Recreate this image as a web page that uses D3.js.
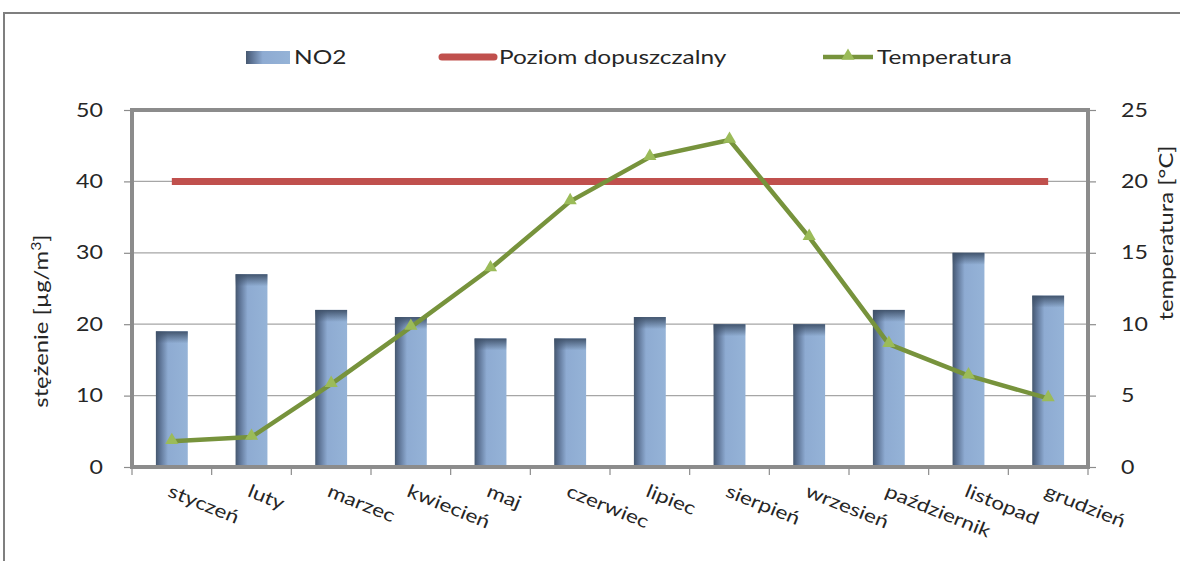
<!DOCTYPE html>
<html>
<head>
<meta charset="utf-8">
<script src="https://cdn.jsdelivr.net/npm/d3@7"></script>
<style>
  html, body { margin: 0; padding: 0; background: #fff; }
  svg { display: block; font-family: Lato, "Open Sans", sans-serif; }
</style>
</head>
<body>
<svg id="chart" width="1180" height="561"></svg>
<script>
// Monthly NO2 concentration, permitted level and mean temperature
const months = ["styczeń", "luty", "marzec", "kwiecień", "maj", "czerwiec",
                "lipiec", "sierpień", "wrzesień", "październik", "listopad", "grudzień"];
const no2 = [19, 27, 22, 21, 18, 18, 21, 20, 20, 22, 30, 24];
const limitLevel = [40, 40, 40, 40, 40, 40, 40, 40, 40, 40, 40, 40];
const temperature = [1.8, 2.1, 5.8, 9.8, 13.9, 18.6, 21.7, 22.9, 16.1, 8.6, 6.4, 4.8];
const leftTicks = [0, 10, 20, 30, 40, 50];
const rightTicks = [0, 5, 10, 15, 20, 25];

const svg = d3.select("#chart");
const W = 1180, H = 561;
const plot = { left: 132, right: 1088, top: 110, bottom: 467 };
const TXT = "#262626";
const WIDE = 1.22; // horizontal stretch applied to the lettering

const x = d3.scaleBand().domain(months).range([plot.left, plot.right]);
const yL = d3.scaleLinear().domain([0, 50]).range([plot.bottom, plot.top]);
const yR = d3.scaleLinear().domain([0, 25]).range([plot.bottom, plot.top]);

// gradients for the bars
const defs = svg.append("defs");
const hg = defs.append("linearGradient").attr("id", "barH").attr("x1", 0).attr("x2", 1).attr("y1", 0).attr("y2", 0);
[[0, "#46586f"], [0.12, "#5b7192"], [0.38, "#8eabd2"], [1, "#95b3d7"]].forEach(([o, c]) =>
  hg.append("stop").attr("offset", o).attr("stop-color", c));
const vg = defs.append("linearGradient").attr("id", "barTop").attr("x1", 0).attr("x2", 0).attr("y1", 0).attr("y2", 1);
vg.append("stop").attr("offset", 0).attr("stop-color", "#3e5068").attr("stop-opacity", 0.95);
vg.append("stop").attr("offset", 1).attr("stop-color", "#3e5068").attr("stop-opacity", 0);

// outer frame
svg.append("rect").attr("x", 4).attr("y", 13).attr("width", W).attr("height", H)
  .attr("fill", "#fff").attr("stroke", "#7f7f7f").attr("stroke-width", 2);

// gridlines
svg.append("g").selectAll("line").data(leftTicks.filter(d => d > 0 && d < 50)).join("line")
  .attr("x1", plot.left).attr("x2", plot.right)
  .attr("y1", d => yL(d)).attr("y2", d => yL(d))
  .attr("stroke", "#a6a6a6").attr("stroke-width", 1.2);

// bars
const bw = x.bandwidth() * 0.4;
const bars = svg.append("g");
bars.selectAll("rect.b").data(no2).join("rect").attr("class", "b")
  .attr("x", (d, i) => x(months[i]) + (x.bandwidth() - bw) / 2)
  .attr("y", d => yL(d)).attr("width", bw).attr("height", d => yL(0) - yL(d))
  .attr("fill", "url(#barH)");
bars.selectAll("rect.t").data(no2).join("rect").attr("class", "t")
  .attr("x", (d, i) => x(months[i]) + (x.bandwidth() - bw) / 2)
  .attr("y", d => yL(d)).attr("width", bw).attr("height", 12)
  .attr("fill", "url(#barTop)");

// plot border
svg.append("rect").attr("x", plot.left).attr("y", plot.top)
  .attr("width", plot.right - plot.left).attr("height", plot.bottom - plot.top)
  .attr("fill", "none").attr("stroke", "#8c8c8c").attr("stroke-width", 4);

// axes
const axL = svg.append("g").attr("transform", `translate(${plot.left},0)`)
  .call(d3.axisLeft(yL).tickValues(leftTicks).tickSize(8).tickPadding(21));
const axR = svg.append("g").attr("transform", `translate(${plot.right},0)`)
  .call(d3.axisRight(yR).tickValues(rightTicks).tickSize(8).tickPadding(25));
[axL, axR].forEach(a => {
  a.select(".domain").remove();
  a.selectAll(".tick line").attr("stroke", "#8c8c8c").attr("stroke-width", 1.2);
  a.selectAll(".tick text").attr("font-size", 19).attr("fill", TXT)
    .attr("font-family", "Lato, sans-serif")
    .each(function () {
      const t = d3.select(this);
      const tx = +t.attr("x");
      t.attr("x", 0).attr("transform", `translate(${tx},0) scale(${WIDE},1)`);
    });
});

// category ticks on the bottom axis
const bounds = months.map(m => x(m)).concat([plot.right]);
svg.append("g").selectAll("line").data(bounds).join("line")
  .attr("x1", d => d).attr("x2", d => d)
  .attr("y1", plot.bottom).attr("y2", plot.bottom + 8)
  .attr("stroke", "#8c8c8c").attr("stroke-width", 1.2);

// rotated month labels
svg.append("g").selectAll("text").data(months).join("text")
  .attr("transform", d => `translate(${x(d) + x.bandwidth() / 2 - 5},${plot.bottom + 29}) rotate(22) scale(${WIDE},1)`)
  .attr("font-size", 18.5).attr("fill", TXT)
  .text(d => d);

// permitted level line
const lineL = d3.line().x((d, i) => x(months[i]) + x.bandwidth() / 2).y(d => yL(d));
svg.append("path").datum(limitLevel).attr("d", lineL)
  .attr("fill", "none").attr("stroke", "#c0504d").attr("stroke-width", 7);

// temperature line
const lineR = d3.line().x((d, i) => x(months[i]) + x.bandwidth() / 2).y(d => yR(d));
svg.append("path").datum(temperature).attr("d", lineR)
  .attr("fill", "none").attr("stroke", "#77933c").attr("stroke-width", 4.5)
  .attr("stroke-linejoin", "round");
const tri = d3.symbol().type(d3.symbolTriangle).size(75);
svg.append("g").selectAll("path").data(temperature).join("path")
  .attr("d", tri)
  .attr("transform", (d, i) => `translate(${x(months[i]) + x.bandwidth() / 2},${yR(d) - 1})`)
  .attr("fill", "#9bbb59");

// axis titles
svg.append("text").attr("transform", `translate(48,321) rotate(-90) scale(${WIDE},1)`)
  .attr("text-anchor", "middle").attr("font-size", 19.5).attr("fill", TXT)
  .html('stężenie [µg/m<tspan baseline-shift="super" font-size="13">3</tspan>]');
svg.append("text").attr("transform", `translate(1173,233) rotate(-90) scale(${WIDE},1)`)
  .attr("text-anchor", "middle").attr("font-size", 19.5).attr("fill", TXT)
  .text("temperatura [°C]");

// legend
const LW = 1.32;
const lg = svg.append("g").attr("font-size", 18.5).attr("fill", TXT);
const legendText = (x0, label) => lg.append("text")
  .attr("transform", `translate(${x0},64) scale(${LW},1)`).text(label);
lg.append("rect").attr("x", 246).attr("y", 51).attr("width", 44).attr("height", 13).attr("fill", "url(#barH)");
legendText(294, "NO2");
lg.append("line").attr("x1", 442).attr("x2", 494).attr("y1", 57).attr("y2", 57)
  .attr("stroke", "#c0504d").attr("stroke-width", 7).attr("stroke-linecap", "round");
legendText(499, "Poziom dopuszczalny");
lg.append("line").attr("x1", 823).attr("x2", 873).attr("y1", 57).attr("y2", 57)
  .attr("stroke", "#77933c").attr("stroke-width", 4.5);
lg.append("path").attr("d", tri).attr("transform", "translate(848,56)").attr("fill", "#9bbb59");
legendText(877, "Temperatura");
</script>
</body>
</html>
